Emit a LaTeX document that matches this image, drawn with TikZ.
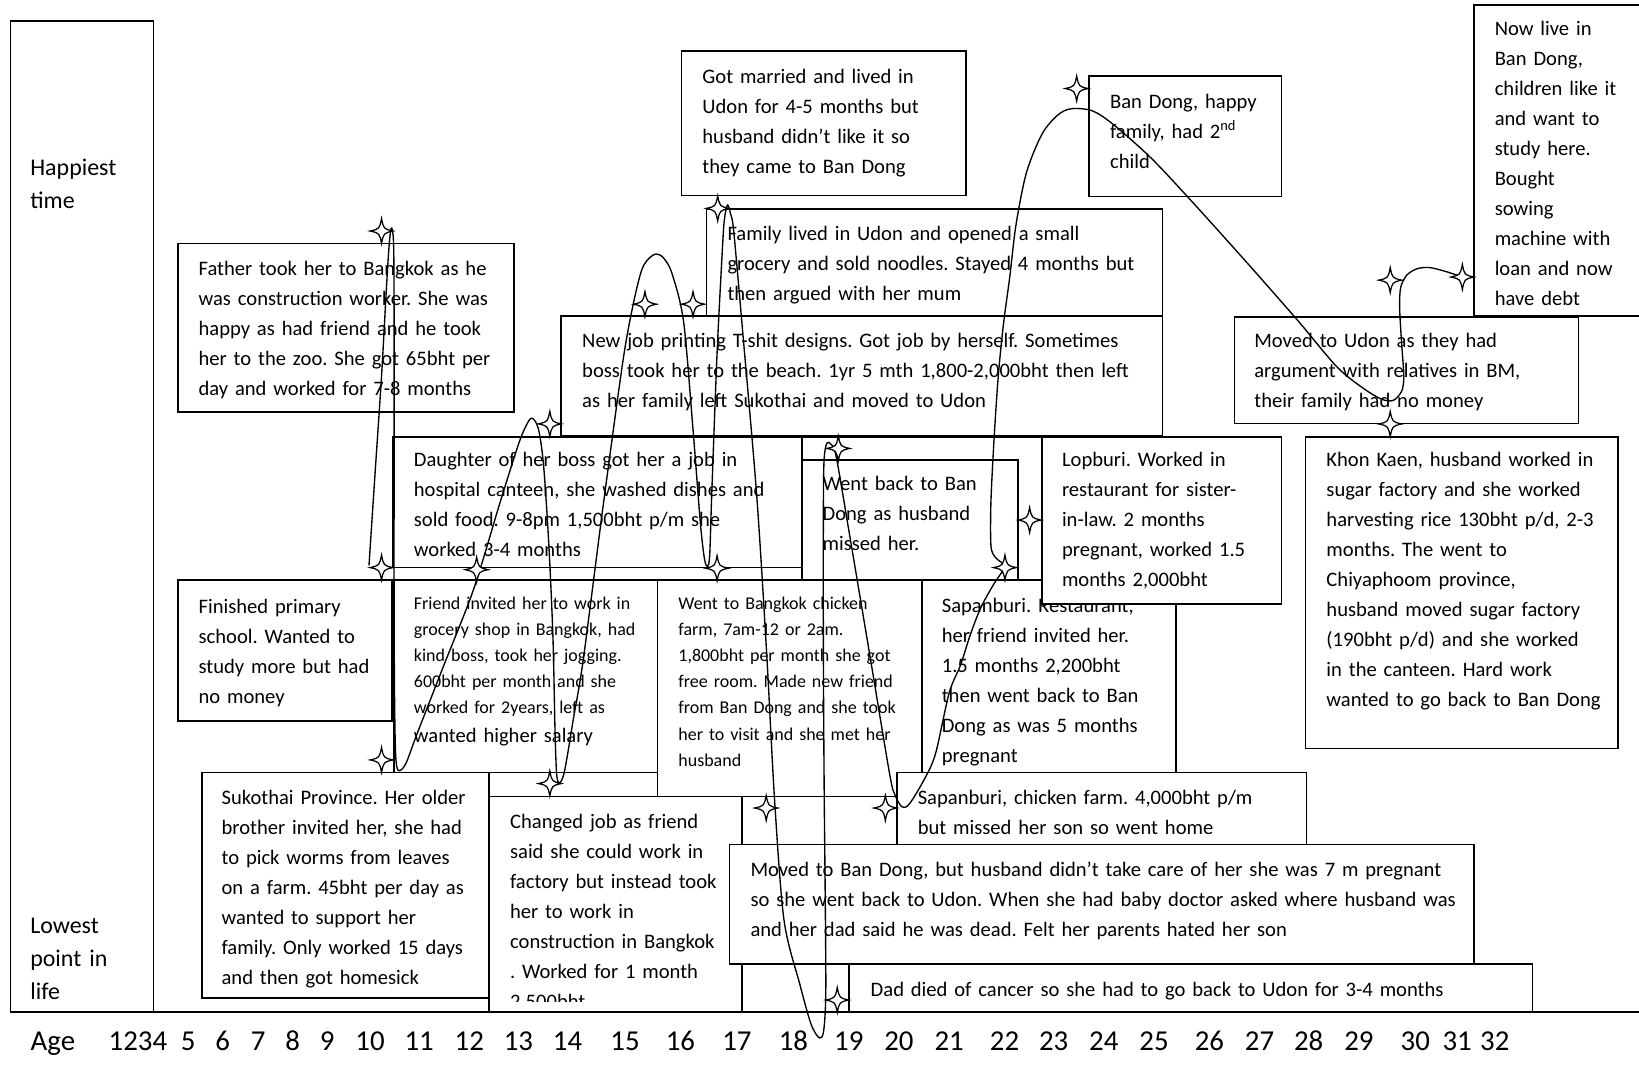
\documentclass[tikz,border=0pt]{standalone}
\usepackage{fontspec}
\setmainfont{Carlito}
\usetikzlibrary{fit}
\frenchspacing
\tikzset{
  boxst/.style={draw, line width=0.8pt, fill=white, inner sep=0pt, outer sep=0pt},
  txt/.style={anchor=base west, inner sep=0pt, outer sep=0pt, text width=420pt, align=left,
              font=\fontsize{9.85}{14.35}\selectfont},
  smalltxt/.style={txt, font=\fontsize{8.6}{12.5}\selectfont},
  sidetxt/.style={txt, text width=80pt, font=\fontsize{11.45}{15.75}\selectfont},
  agetxt/.style={anchor=base, inner sep=0pt, font=\fontsize{13.8}{16}\selectfont},
  life/.style={line width=0.65pt, line join=round},
  spark/.pic={\draw[line width=0.6pt, fill=white]
      (0,-12) .. controls (2,-2) .. (11,0) .. controls (2,2) .. (0,12)
      .. controls (-2,2) .. (-11,0) .. controls (-2,-2) .. cycle;}
}
% box from its top-left to its bottom-right corner
\newcommand\evbox[5]{\node[boxst, fit={(#2,#3) (#4,#5)}] (#1) {};}
\begin{document}
\begin{tikzpicture}[x=0.5pt,y=-0.5pt]
\useasboundingbox (0,0) rectangle (1568,1034);

% side panel
\evbox{panel}{10}{20}{147}{968}
\node[sidetxt] (happy) at (29,168.3) {Happiest\\time};
\node[sidetxt] (lowest) at (29,893.3) {Lowest\\point in\\life};

% upper events
\evbox{father}{170}{233}{492}{394}
\node[txt] (t-father) at (190,263.5) {Father took her to Bangkok as he\\was construction worker. She was\\happy as had friend and he took\\her to the zoo. She got 65bht per\\day and worked for 7-8 months};

\evbox{married}{652}{49}{924}{187}
\node[txt] (t-married) at (672,79.5) {Got married and lived in\\Udon for 4-5 months but\\husband didn’t like it so\\they came to Ban Dong};

\evbox{happyfam}{1042}{73}{1226}{188}
\node[txt] (t-happyfam) at (1062,103.5) {Ban Dong, happy\\family, had 2\textsuperscript{nd}\\child};

\evbox{nowlive}{1410}{4.5}{1576}{302}
\node[txt] (t-nowlive) at (1430,33.5) {Now live in\\Ban Dong,\\children like it\\and want to\\study here.\\Bought\\sowing\\machine with\\loan and now\\have debt};

\evbox{grocery}{676}{200}{1112}{302}
\node[txt] (t-grocery) at (696,230.5) {Family lived in Udon and opened a small\\grocery and sold noodles. Stayed 4 months but\\then argued with her mum};

\evbox{tshirt}{537}{302}{1112}{417}
\node[txt] (t-tshirt) at (557,332.5) {New job printing T-shit designs. Got job by herself. Sometimes\\boss took her to the beach. 1yr 5 mth 1,800-2,000bht then left\\as her family left Sukothai and moved to Udon};

\evbox{udon}{1181}{303}{1510}{405}
\node[txt] (t-udon) at (1200,332.5) {Moved to Udon as they had\\argument with relatives in BM,\\their family had no money};

% middle events
\evbox{canteen}{376}{418}{767}{543}
\node[txt] (t-canteen) at (396,446.5) {Daughter of her boss got her a job in\\hospital canteen, she washed dishes and\\sold food. 9-8pm 1,500bht p/m she\\worked 3-4 months};

\evbox{backouter}{767}{418}{997}{555}
\evbox{back}{767}{440}{974}{555}
\node[txt] (t-back) at (787,469.5) {Went back to Ban\\Dong as husband\\missed her.};

\evbox{restaurant}{882}{555}{1125}{739}
\node[txt] (t-restaurant) at (901,585.5) {Sapanburi. Restaurant,\\her friend invited her.\\1.5 months 2,200bht\\then went back to Ban\\Dong as was 5 months\\pregnant};

\evbox{lopburi}{997}{418}{1226}{578}
\node[txt] (t-lopburi) at (1016,446.5) {Lopburi. Worked in\\restaurant for sister-\\in-law. 2 months\\pregnant, worked 1.5\\months 2,000bht};

\evbox{khonkaen}{1249}{418}{1548}{716}
\node[txt] (t-khonkaen) at (1269,446.5) {Khon Kaen, husband worked in\\sugar factory and she worked\\harvesting rice 130bht p/d, 2-3\\months. The went to\\Chiyaphoom province,\\husband moved sugar factory\\(190bht p/d) and she worked\\in the canteen. Hard work\\wanted to go back to Ban Dong};

\evbox{primary}{170}{555}{375}{690}
\node[txt] (t-primary) at (190,586.5) {Finished primary\\school. Wanted to\\study more but had\\no money};

\evbox{shop}{377}{555}{629}{739}
\node[smalltxt] (t-shop) at (396,583) {Friend invited her to work in\\grocery shop in Bangkok, had\\kind boss, took her jogging.\\600bht per month and she\\worked for 2years, left as};
\node[txt] (t-shop2) at (396,710.5) {wanted higher salary};

\evbox{chicken}{629}{555}{882}{762}
\node[smalltxt] (t-chicken) at (649,583) {Went to Bangkok chicken\\farm, 7am-12 or 2am.\\1,800bht per month she got\\free room. Made new friend\\from Ban Dong and she took\\her to visit and she met her\\husband};

% lower events
\evbox{sukothai}{193}{739}{468}{955}
\node[txt] (t-sukothai) at (212,769.5) {Sukothai Province. Her older\\brother invited her, she had\\to pick worms from leaves\\on a farm. 45bht per day as\\wanted to support her\\family. Only worked 15 days\\and then got homesick};

\evbox{construct}{468}{762}{710}{968}
\begin{scope}
  \clip (468,762) rectangle (710,958);
  \node[txt] (t-construct) at (488,792.5) {Changed job as friend\\said she could work in\\factory but instead took\\her to work in\\construction in Bangkok\\. Worked for 1 month\\2,500bht};
\end{scope}

\evbox{farm}{858}{739}{1250}{808}
\node[txt] (t-farm) at (878,769.5) {Sapanburi, chicken farm. 4,000bht p/m\\but missed her son so went home};

\evbox{bandong}{698}{808}{1410}{922}
\node[txt] (t-bandong) at (718,838.5) {Moved to Ban Dong, but husband didn’t take care of her she was 7 m pregnant\\so she went back to Udon. When she had baby doctor asked where husband was\\and her dad said he was dead. Felt her parents hated her son};

\evbox{cancer}{812}{922}{1466}{968}
\node[txt] (t-cancer) at (833,953.5) {Dad died of cancer so she had to go back to Udon for 3-4 months};

% age axis
\draw[line width=0.8pt] (10,968) coordinate (axisl) -- (1568,968) coordinate (axisr);
\node[agetxt, anchor=base west] (age) at (29,1004.5) {Age};
\foreach \lab/\xx in {1234/132, 5/180, 6/213, 7/247, 8/280, 9/313, 10/354, 11/401,
    12/449, 13/496, 14/543, 15/598, 16/651, 17/705, 18/759, 19/812, 20/860,
    21/908, 22/961, 23/1008, 24/1056, 25/1104, 26/1157, 27/1205, 28/1252,
    29/1300, 30/1354, 31/1394, 32/1430}
  \node[agetxt] (age\lab) at (\xx,1004.5) {\lab};

% life line
\draw[life] plot[smooth, tension=0.5] coordinates {
 (353,541) (359,450) (365,360) (370,270) (372.5,232) (374.5,218) (376.5,232)
 (377,290) (377,380) (377,480) (377,580) (377.5,670) (378.5,722) (381,737)
 (388,731) (399,702) (424,638) (453,564) (478,482) (495,428) (502,410)
 (508.5,400) (515,410) (520,445) (525,520) (529,610) (531,700) (532.5,740)
 (535,749) (540,738) (549,685) (558,631) (577,484) (596,345) (606,290)
 (614,258) (621,247) (628,243) (635,247) (643,262) (654,308) (663,411)
 (670,500) (674,535) (677,542) (679,530) (681,470) (686,338) (691,240)
 (693,210) (696,196) (699,205) (702,222) (711,323) (724,475) (733.5,626)
 (741,765) (750,880) (765,941) (776,980) (784,993) (788,986) (790,950)
 (789.5,861) (788.5,760) (787.8,650) (787.6,550) (787.8,470) (788.5,438)
 (791,424) (795,425) (800,437) (813,513) (832,626) (851,740) (856,760)
 (863,772) (870,769) (884,746) (895,721) (908,663) (919,636) (928,608)
 (938,582) (950,560) (958,548) (961,543) (958,538) (952,533) (948,522)
 (948,480) (951,420) (955,360) (960,310) (966,265) (972,215) (982,165)
 (997,128) (1012,110) (1025,104) (1045,106) (1065,119) (1100,150)
 (1135,187) (1190,248) (1241,306) (1279,351) (1305,372) (1322,382)
 (1333,383) (1341,374) (1343,360) (1341,330) (1339,295) (1340,275)
 (1346,263) (1356,257) (1368,256) (1384,260) (1399,265)};

% event markers
\foreach \sx/\sy in {365/221, 365/543, 365/727, 456/545, 526/405.5, 526/749.6,
    617/291, 663/291, 686/543.6, 686.6/199.4, 802/429, 985/497.5, 961.4/543,
    1030/84.7, 733/773, 847/773, 801/956.7, 1330/268, 1399/265, 1330/405.6}
  \pic at (\sx,\sy) {spark};
\end{tikzpicture}
\end{document}
